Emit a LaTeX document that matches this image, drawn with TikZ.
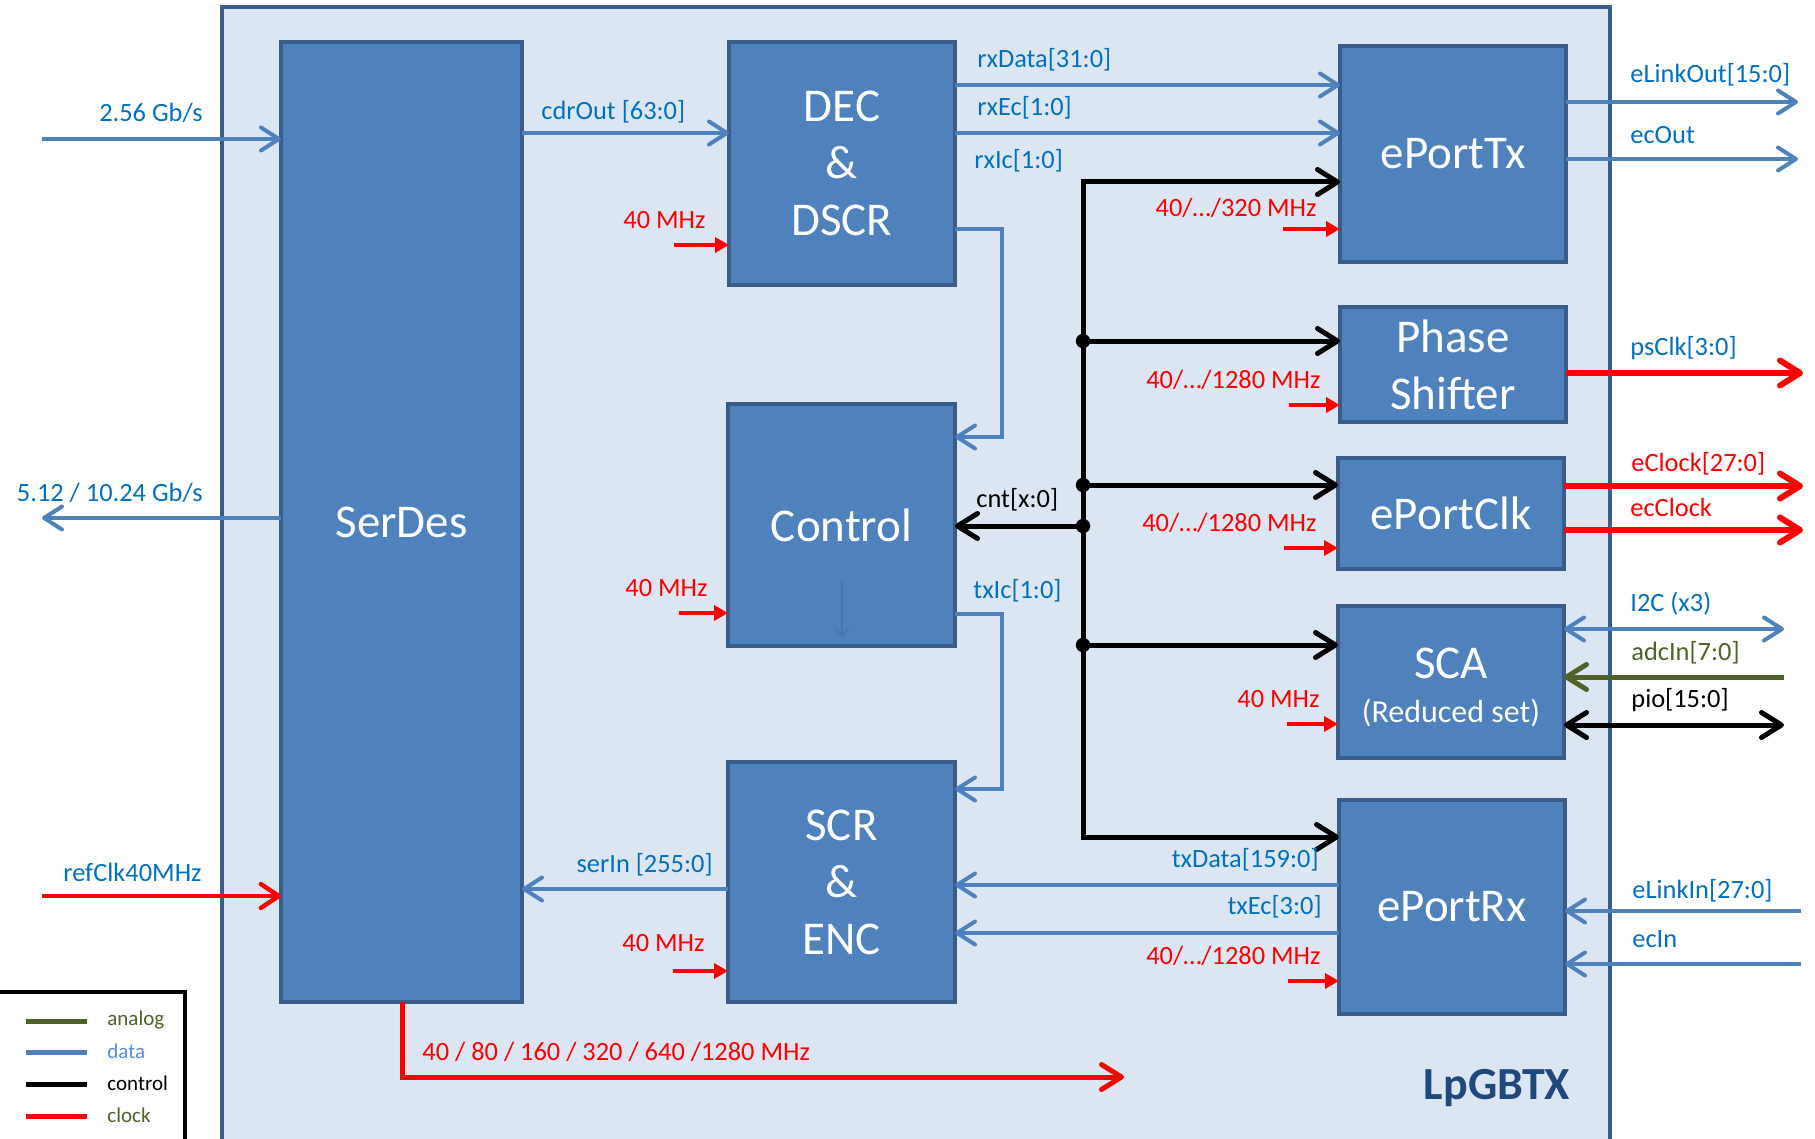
\documentclass[tikz,border=0pt]{standalone}
\usepackage{fontspec}
\setmainfont{Carlito}
\usetikzlibrary{arrows.meta}
\definecolor{boxfill}{HTML}{4F81BD}
\definecolor{boxline}{HTML}{385D8A}
\definecolor{bgfill}{HTML}{DCE6F2}
\definecolor{datac}{HTML}{4F81BD}
\definecolor{lblblue}{HTML}{0070C0}
\definecolor{clk}{HTML}{FF0000}
\definecolor{ana}{HTML}{4F6228}
\definecolor{titleblue}{HTML}{1F497D}
\definecolor{legdata}{HTML}{558ED5}
\tikzset{
  blk/.style={draw=boxline, fill=boxfill, line width=2pt, text=white, inner sep=0pt, outer sep=0pt,
    align=center, font=\fontsize{23.5}{28.5}\selectfont},
  dbarb/.tip={Straight Barb[length=9pt,width=11.5pt,round]},
  cbarb/.tip={Straight Barb[length=10pt,width=12.5pt,round]},
  ctri/.tip={Triangle[length=7pt,width=7.5pt]},
  dataline/.style={draw=datac, line width=2pt},
  ctlline/.style={draw=black, line width=2.5pt},
  clkline/.style={draw=clk, line width=3pt},
  clkin/.style={draw=clk, line width=1.75pt, -ctri},
  analine/.style={draw=ana, line width=2.5pt},
  lbl/.style={font=\fontsize{13.2}{15}\selectfont, text=lblblue, inner sep=0pt},
  rlbl/.style={lbl, text=clk},
  klbl/.style={lbl, text=black},
  glbl/.style={lbl, text=ana},
  legl/.style={font=\fontsize{10.5}{12}\selectfont, inner sep=0pt, anchor=west},
  dot/.style={fill=black},
}
\begin{document}
\begin{tikzpicture}[x=0.5pt,y=-0.5pt]
\clip (0,0) rectangle (1815,1139);
% chip outline
\draw[draw=boxline, fill=bgfill, line width=2pt] (222,7) rectangle (1610,1170);
\node[font=\bfseries\fontsize{23}{26}\selectfont, text=titleblue, inner sep=0pt] (chipname) at (1497,1088) {LpGBTX};

% blocks
\node[blk, minimum width=120.5pt, minimum height=480pt] (serdes) at (401.5,522) {SerDes};
\node[blk, minimum width=113pt, minimum height=121.5pt] (dec) at (842,163.5) {DEC\\\&\\DSCR};
\node[blk, minimum width=113.5pt, minimum height=121pt] (ctrl) at (841.5,525) {Control};
\node[blk, minimum width=113.5pt, minimum height=120pt] (scr) at (841.5,882) {SCR\\\&\\ENC};
\node[blk, minimum width=113pt, minimum height=108pt] (eptx) at (1453,154) {ePortTx};
\node[blk, minimum width=113pt, minimum height=57.5pt] (ps) at (1453,364.5) {Phase\\Shifter};
\node[blk, minimum width=113pt, minimum height=55.5pt] (epclk) at (1451,513.5) {ePortClk};
\node[blk, minimum width=113pt, minimum height=76pt] (sca) at (1451,682) {\rule{0pt}{21pt}SCA\\[-6.5pt]{\fontsize{16}{20}\selectfont (Reduced set)}};
\node[blk, minimum width=113pt, minimum height=107pt] (eprx) at (1452,907) {ePortRx};

% faint arrow inside Control
\draw[draw=boxline!35!boxfill, line width=0.6pt, -{Straight Barb[length=4pt,width=7pt]}] (842,582) -- (842,637);

% free ends
\coordinate (inA) at (42,139);
\coordinate (outA) at (42,518);
\coordinate (inRef) at (42,896);
\coordinate (oLink) at (1798,102);
\coordinate (oEc) at (1798,159);
\coordinate (oPs) at (1803,373);
\coordinate (oEclk) at (1803,486);
\coordinate (oEcclk) at (1803,530);
\coordinate (oI2c) at (1784,629);
\coordinate (iAdc) at (1784,677);
\coordinate (oPio) at (1784,725);
\coordinate (iLink) at (1801,911);
\coordinate (iEc) at (1801,964);
\coordinate (clkEnd) at (1124,1077);

% data connectors
\draw[dataline, -dbarb] (inA) -- (serdes.west |- inA);
\draw[dataline, -dbarb] (serdes.west |- outA) -- (outA);
\draw[dataline, -dbarb] (serdes.east |- 0,133) -- (dec.west |- 0,133);
\draw[dataline, -dbarb] (dec.east |- 0,85) -- (eptx.west |- 0,85);
\draw[dataline, -dbarb] (dec.east |- 0,133) -- (eptx.west |- 0,133);
\draw[dataline, -dbarb] (dec.east |- 0,229) -- (1002,229) -- (1002,437) -- (ctrl.east |- 0,437);
\draw[dataline, -dbarb] (ctrl.east |- 0,614) -- (1002,614) -- (1002,789) -- (scr.east |- 0,789);
\draw[dataline, -dbarb] (scr.west |- 0,889) -- (serdes.east |- 0,889);
\draw[dataline, -dbarb] (eprx.west |- 0,885) -- (scr.east |- 0,885);
\draw[dataline, -dbarb] (eprx.west |- 0,933) -- (scr.east |- 0,933);
\draw[dataline, -dbarb] (eptx.east |- oLink) -- (oLink);
\draw[dataline, -dbarb] (eptx.east |- oEc) -- (oEc);
\draw[dataline, dbarb-dbarb] (sca.east |- oI2c) -- (oI2c);
\draw[dataline, -dbarb] (iLink) -- (eprx.east |- iLink);
\draw[dataline, -dbarb] (iEc) -- (eprx.east |- iEc);

% analog
\draw[analine, -cbarb] (iAdc) -- (sca.east |- iAdc);

% clock outputs
\draw[clkline, -cbarb] (ps.east |- oPs) -- (oPs);
\draw[clkline, -cbarb] (epclk.east |- oEclk) -- (oEclk);
\draw[clkline, -cbarb] (epclk.east |- oEcclk) -- (oEcclk);
\draw[clk, line width=2.2pt, -{Straight Barb[length=9pt,width=12pt,round]}] (inRef) -- (serdes.west |- inRef);
\draw[clkline, line width=2.5pt, -cbarb] (serdes.south -| 402,0) -- (402,1077) -- (clkEnd);

% short clock inputs
\draw[clkin] (674,245) -- (dec.west |- 0,245);
\draw[clkin] (679,613) -- (ctrl.west |- 0,613);
\draw[clkin] (673,971) -- (scr.west |- 0,971);
\draw[clkin] (1283,229) -- (eptx.west |- 0,229);
\draw[clkin] (1289,405) -- (ps.west |- 0,405);
\draw[clkin] (1284,548) -- (epclk.west |- 0,548);
\draw[clkin] (1287,724) -- (sca.west |- 0,724);
\draw[clkin] (1288,981) -- (eprx.west |- 0,981);

% control bus
\draw[ctlline, cbarb-cbarb, line join=miter] (eptx.west |- 0,182) -- (1083,182) -- (1083,837) -- (eprx.west |- 0,837);
\draw[ctlline, -cbarb] (1083,341) -- (ps.west |- 0,341);
\draw[ctlline, -cbarb] (1083,485) -- (epclk.west |- 0,485);
\draw[ctlline, -cbarb] (1083,526) -- (ctrl.east |- 0,526);
\draw[ctlline, -cbarb] (1083,645) -- (sca.west |- 0,645);
\draw[ctlline, cbarb-cbarb] (sca.east |- oPio) -- (oPio);
\foreach \yy in {341,485,526,645} \fill[dot] (1083,\yy) circle[radius=3.6pt];

% labels
\node[lbl, anchor=east] at (203,113) {2.56 Gb/s};
\node[lbl, anchor=east] at (203,493) {5.12 / 10.24 Gb/s};
\node[lbl, anchor=east] at (202,872) {refClk40MHz};
\node[lbl, anchor=west] at (541,112) {cdrOut [63:0]};
\node[lbl, anchor=east] at (713,865) {serIn [255:0]};
\node[lbl, anchor=west] at (977,60) {rxData[31:0]};
\node[lbl, anchor=west] at (977,108) {rxEc[1:0]};
\node[lbl, anchor=west] at (974,161) {rxIc[1:0]};
\node[lbl, anchor=west] at (973,591) {txIc[1:0]};
\node[klbl, anchor=west] at (976,500) {cnt[x:0]};
\node[lbl, anchor=east] at (1319,860) {txData[159:0]};
\node[lbl, anchor=east] at (1322,907) {txEc[3:0]};
\node[lbl, anchor=west] at (1630,75) {eLinkOut[15:0]};
\node[lbl, anchor=west] at (1630,135) {ecOut};
\node[lbl, anchor=west] at (1630,348) {psClk[3:0]};
\node[rlbl, anchor=west] at (1631,464) {eClock[27:0]};
\node[rlbl, anchor=west] at (1630,507) {ecClock};
\node[lbl, anchor=west] at (1630,604) {I2C (x3)};
\node[glbl, anchor=west] at (1631,653) {adcIn[7:0]};
\node[klbl, anchor=west] at (1631,700) {pio[15:0]};
\node[lbl, anchor=west] at (1632,891) {eLinkIn[27:0]};
\node[lbl, anchor=west] at (1632,939) {ecIn};

\node[rlbl, anchor=east] at (706,220) {40 MHz};
\node[rlbl, anchor=east] at (708,588) {40 MHz};
\node[rlbl, anchor=east] at (705,943) {40 MHz};
\node[rlbl, anchor=east] at (1317,208) {40/\dots/320 MHz};
\node[rlbl, anchor=east] at (1321,380) {40/\dots/1280 MHz};
\node[rlbl, anchor=east] at (1317,523) {40/\dots/1280 MHz};
\node[rlbl, anchor=east] at (1320,699) {40 MHz};
\node[rlbl, anchor=east] at (1321,956) {40/\dots/1280 MHz};
\node[rlbl, anchor=west] at (422,1052) {40 / 80 / 160 / 320 / 640 /1280 MHz};

% legend
\draw[draw=black, fill=white, line width=2pt] (-10,992) rectangle (185,1170);
\draw[draw=ana, line width=2.5pt] (26,1021) -- (87,1021);
\draw[draw=datac, line width=2.5pt] (26,1052) -- (87,1052);
\draw[draw=black, line width=2.5pt] (26,1084) -- (87,1084);
\draw[draw=clk, line width=2.5pt] (26,1116) -- (87,1116);
\node[legl, text=ana] at (107,1020) {analog};
\node[legl, text=legdata] at (107,1051) {data};
\node[legl, text=black] at (107,1083) {control};
\node[legl, text=ana] at (107,1115) {clock};
\end{tikzpicture}
\end{document}
